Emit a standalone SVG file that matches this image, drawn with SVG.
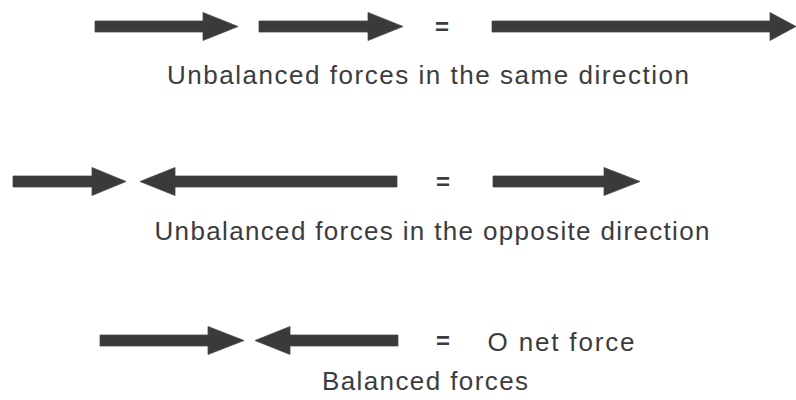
<svg xmlns="http://www.w3.org/2000/svg" width="796" height="400" viewBox="0 0 796 400">
  <style>
    .arrow { fill: #3a3a3c; stroke: #4a4a4c; stroke-width: 0.8; stroke-linejoin: miter; }
    .label { font-family: "Liberation Sans", "DejaVu Sans", Arial, sans-serif; font-size: 26px; fill: #3c3c3e; text-anchor: middle; }
    .eq { font-family: "Liberation Sans", "DejaVu Sans", Arial, sans-serif; font-size: 24px; font-weight: bold; fill: #3c3c3e; text-anchor: middle; }
  </style>
  <rect width="796" height="400" fill="#ffffff"/>

  <g id="row1">
    <g id="r1-force1"><polygon class="arrow" points="95,21 203,21 203,12.5 238,26.5 203,40.5 203,32 95,32"/></g>
    <g id="r1-force2"><polygon class="arrow" points="259,21 368,21 368,12.5 403,26.5 368,40.5 368,32 259,32"/></g>
    <g id="r1-equals"><text class="eq" x="442" y="35">=</text></g>
    <g id="r1-net"><polygon class="arrow" points="492,21 770,21 770,12.5 796,26.5 770,40.5 770,32 492,32"/></g>
    <g id="r1-label"><text class="label" x="428" y="84" textLength="522" lengthAdjust="spacing">Unbalanced forces in the same direction</text></g>
  </g>

  <g id="row2">
    <g id="r2-force1"><polygon class="arrow" points="13,176 92,176 92,167.5 126,181.5 92,195.5 92,187 13,187"/></g>
    <g id="r2-force2"><polygon class="arrow" points="397,176 175,176 175,167.5 140,181.5 175,195.5 175,187 397,187"/></g>
    <g id="r2-equals"><text class="eq" x="443" y="190">=</text></g>
    <g id="r2-net"><polygon class="arrow" points="493,176 604,176 604,167.5 640,181.5 604,195.5 604,187 493,187"/></g>
    <g id="r2-label"><text class="label" x="432" y="240" textLength="555" lengthAdjust="spacing">Unbalanced forces in the opposite direction</text></g>
  </g>

  <g id="row3">
    <g id="r3-force1"><polygon class="arrow" points="100,335 208,335 208,326.5 244,340.5 208,354.5 208,346 100,346"/></g>
    <g id="r3-force2"><polygon class="arrow" points="398,335 290,335 290,326.5 255,340.5 290,354.5 290,346 398,346"/></g>
    <g id="r3-equals"><text class="eq" x="443" y="349">=</text></g>
    <g id="r3-net"><text class="label" x="561" y="351" textLength="147" lengthAdjust="spacing">O net force</text></g>
    <g id="r3-label"><text class="label" x="425" y="390" textLength="206" lengthAdjust="spacing">Balanced forces</text></g>
  </g>
</svg>
